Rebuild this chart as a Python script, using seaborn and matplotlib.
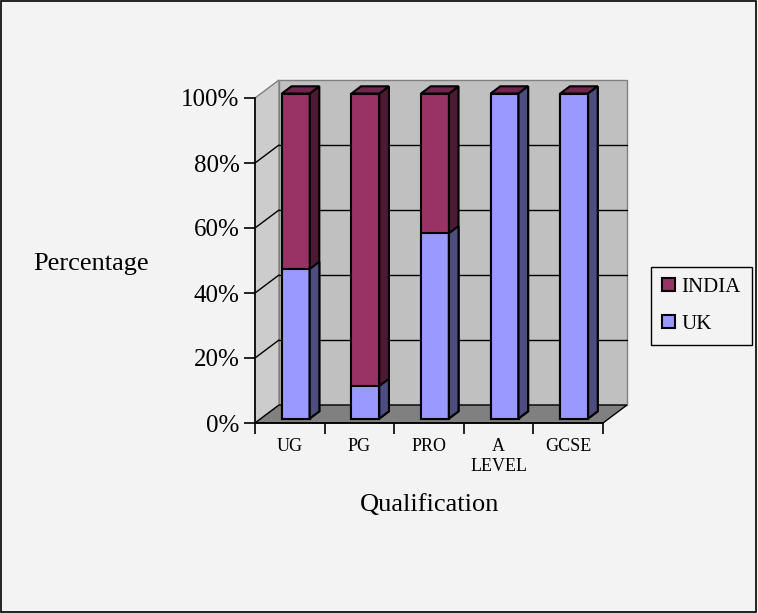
import matplotlib
matplotlib.use('Agg')
import matplotlib.pyplot as plt
import matplotlib.transforms as mtransforms
from matplotlib.patches import Polygon, Rectangle
from matplotlib.lines import Line2D
from matplotlib.ticker import FuncFormatter, FixedLocator
import seaborn as sns

# data (percent of each qualification)
categories = ['UG', 'PG', 'PRO', 'A\nLEVEL', 'GCSE']
uk = [46, 10, 57, 100, 100]
india = [54, 90, 43, 0, 0]
yticks = [0, 20, 40, 60, 80, 100]

BG = '#f3f3f3'
UK_COL, UK_SIDE = '#9999ff', '#4d4d80'
INDIA_COL, INDIA_SIDE, INDIA_TOP = '#993366', '#4d1a33', '#73264d'

# depth of the fake 3d box, in pixels
DX, DY = 24, 18
BAR_FRONT, BAR_BACK = 0.25, 0.65

sns.set_style('white')
plt.rcParams['font.family'] = ['Liberation Serif', 'DejaVu Serif']
plt.rcParams['text.color'] = 'black'
plt.rcParams['axes.labelcolor'] = 'black'
plt.rcParams['xtick.color'] = 'black'
plt.rcParams['ytick.color'] = 'black'

fig = plt.figure(figsize=(7.58, 6.13), dpi=100, facecolor=BG)
ax = fig.add_axes([255/758, (613-423)/613, 348/758, 325/613])
ax.set_facecolor('none')

totals = [u + i for u, i in zip(uk, india)]
sns.barplot(x=categories, y=totals, color=INDIA_COL, label='INDIA', width=0.4,
            edgecolor='black', linewidth=1.5, saturation=1, ax=ax)
sns.barplot(x=categories, y=uk, color=UK_COL, label='UK', width=0.4,
            edgecolor='black', linewidth=1.5, saturation=1, ax=ax)
ax.set_xlim(-0.5, len(categories) - 0.5)
ax.set_ylim(0, 100)

W, H = fig.bbox.width, fig.bbox.height


def pt(x, y, d):
    px, py = ax.transData.transform((x, y))
    return ((px + d*DX)/W, (py + d*DY)/H)


def poly(pts, fc, ec, z, lw=1.0):
    ax.add_patch(Polygon(pts, closed=True, facecolor=fc, edgecolor=ec, lw=lw,
                         transform=fig.transFigure, clip_on=False, zorder=z))


def line(p0, p1, c, z, lw=1.0):
    ax.add_line(Line2D([p0[0], p1[0]], [p0[1], p1[1]], color=c, lw=lw,
                       transform=fig.transFigure, clip_on=False, zorder=z))


x0, x1 = -0.5, len(categories) - 0.5
# walls and floor
poly([pt(x0, 0, 1), pt(x1, 0, 1), pt(x1, 100, 1), pt(x0, 100, 1)], '#c0c0c0', '#808080', 0.5)
poly([pt(x0, 0, 0), pt(x0, 0, 1), pt(x0, 100, 1), pt(x0, 100, 0)], '#cccccc', '#808080', 0.5)
poly([pt(x0, 0, 0), pt(x1, 0, 0), pt(x1, 0, 1), pt(x0, 0, 1)], '#808080', '#000000', 0.6)
for y in yticks[1:-1]:
    line(pt(x0, y, 1), pt(x1, y, 1), 'black', 0.7)
    line(pt(x0, y, 0), pt(x0, y, 1), 'black', 0.7)

# shift the front faces into the box and add sides / tops
n = len(categories)
shift = mtransforms.ScaledTranslation(BAR_FRONT*DX/100, BAR_FRONT*DY/100, fig.dpi_scale_trans)
for k, p in enumerate(ax.patches[:2*n]):
    p.set_transform(ax.transData + shift)
    p.set_clip_on(False)
    p.set_zorder(3)
    bx, by, bw, bh = p.get_x(), p.get_y(), p.get_width(), p.get_height()
    side = INDIA_SIDE if k < n else UK_SIDE
    poly([pt(bx+bw, by, BAR_FRONT), pt(bx+bw, by, BAR_BACK),
          pt(bx+bw, by+bh, BAR_BACK), pt(bx+bw, by+bh, BAR_FRONT)], side, 'black', 3, 1.5)
    if k < n:
        poly([pt(bx, by+bh, BAR_FRONT), pt(bx+bw, by+bh, BAR_FRONT),
              pt(bx+bw, by+bh, BAR_BACK), pt(bx, by+bh, BAR_BACK)], INDIA_TOP, 'black', 3, 1.5)

# axes, ticks, labels
for s in ['top', 'right']:
    ax.spines[s].set_visible(False)
for s in ['left', 'bottom']:
    ax.spines[s].set_color('black')
    ax.spines[s].set_linewidth(1.2)
    ax.spines[s].set_zorder(4)
ax.set_yticks(yticks)
ax.yaxis.set_major_formatter(FuncFormatter(lambda v, _: '%d%%' % v))
ax.tick_params(axis='y', left=True, length=8, width=1.2, color='black', labelsize=18, pad=3)
ax.tick_params(axis='x', which='major', bottom=True, length=0, labelsize=13, pad=11)
ax.xaxis.set_minor_locator(FixedLocator([i - 0.5 for i in range(n + 1)]))
ax.tick_params(axis='x', which='minor', bottom=True, length=8, width=1.2, color='black')

ax.set_ylabel('Percentage', rotation=0, fontsize=19, ha='center', va='center')
ax.yaxis.set_label_coords((91-255)/348, (423-264)/325)
ax.set_xlabel('Qualification', fontsize=19, va='center')
ax.xaxis.set_label_coords((430-255)/348, (423-505)/325)

leg = ax.legend(loc='center left', bbox_to_anchor=(651/758, 1-306/613), bbox_transform=fig.transFigure,
                frameon=True, fancybox=False, edgecolor='black', facecolor=BG, framealpha=1,
                fontsize=15, handlelength=0.6, handleheight=0.6, borderpad=0.55,
                labelspacing=0.85, handletextpad=0.3, borderaxespad=0)
leg.get_frame().set_linewidth(1.0)

fig.patches.append(Rectangle((0.001, 0.002), 0.997, 0.996, transform=fig.transFigure,
                             fill=False, edgecolor='black', lw=1.2))

fig.savefig('out.png', dpi=100, facecolor=BG)
